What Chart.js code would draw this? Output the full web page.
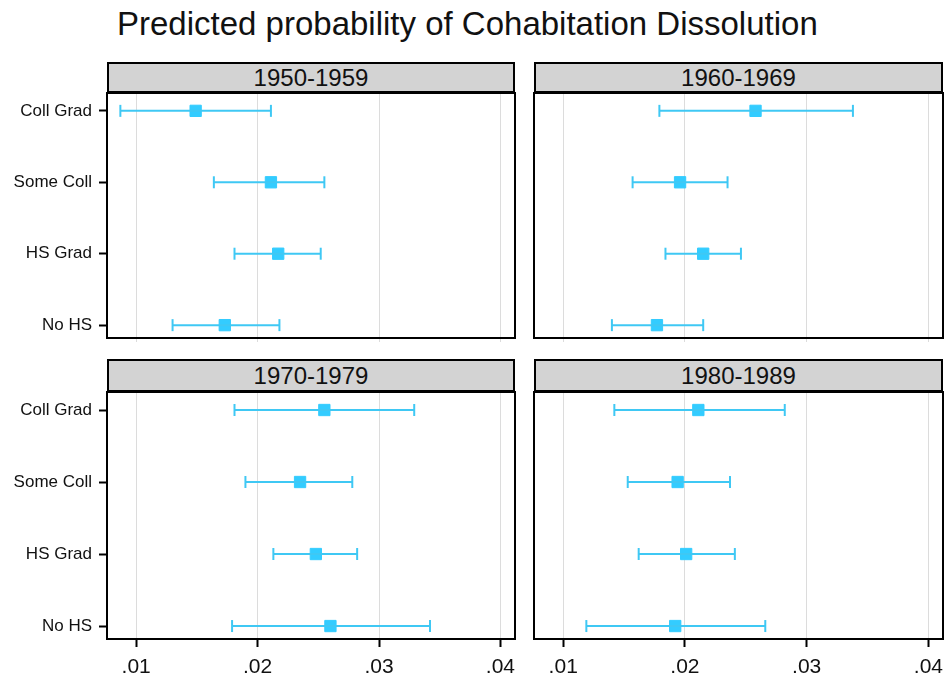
<!DOCTYPE html>
<html lang="en">
<head>
  <meta charset="UTF-8">
  <title>Predicted probability of Cohabitation Dissolution</title>
  <script src="https://cdn.jsdelivr.net/npm/chart.js"></script>
  <style>
    body {
      margin: 0;
      background: #fff;
      font-family: "Liberation Sans", Arial, sans-serif;
    }
    .page {
      position: relative;
      width: 948px;
      height: 682px;
      overflow: hidden;
    }
    .title {
      position: absolute;
      left: 117px;
      top: 7px;
      font-size: 33px;
      line-height: 1;
      color: #111;
      white-space: nowrap;
    }
    .strip {
      position: absolute;
      box-sizing: border-box;
      background: #d3d3d3;
      border: 2px solid #000;
      border-bottom-width: 3px;
      text-align: center;
      font-size: 24px;
      color: #111;
    }
    canvas {
      position: absolute;
    }
  </style>
</head>
<body>
  <div class="page">
    <div class="title">Predicted probability of Cohabitation Dissolution</div>

    <div class="strip" style="left:107px; top:62px; width:408px; height:32px; line-height:27px;">1950-1959</div>
    <div class="strip" style="left:534px; top:62px; width:409px; height:32px; line-height:27px;">1960-1969</div>
    <div class="strip" style="left:107px; top:359px; width:408px; height:34px; line-height:29px;">1970-1979</div>
    <div class="strip" style="left:534px; top:359px; width:409px; height:34px; line-height:29px;">1980-1989</div>

    <canvas id="p1" width="525" height="260" style="left:0; top:88px;"></canvas>
    <canvas id="p2" width="428" height="260" style="left:520px; top:88px;"></canvas>
    <canvas id="p3" width="525" height="295" style="left:0; top:387px;"></canvas>
    <canvas id="p4" width="428" height="295" style="left:520px; top:387px;"></canvas>
  </div>

  <script>
    const levels = ['Coll Grad', 'Some Coll', 'HS Grad', 'No HS'];
    const xTicks = [0.01, 0.02, 0.03, 0.04];
    const xTickLabels = ['.01', '.02', '.03', '.04'];

    // point estimates and 95% CI, order follows levels
    const est50s = [0.0149, 0.0211, 0.0217, 0.0173];
    const lo50s  = [0.0087, 0.0164, 0.0181, 0.0130];
    const hi50s  = [0.0211, 0.0255, 0.0252, 0.0218];

    const est60s = [0.0258, 0.0196, 0.0215, 0.0177];
    const lo60s  = [0.0179, 0.0157, 0.0184, 0.0140];
    const hi60s  = [0.0338, 0.0235, 0.0246, 0.0215];

    const est70s = [0.0255, 0.0235, 0.0248, 0.0260];
    const lo70s  = [0.0181, 0.0190, 0.0213, 0.0179];
    const hi70s  = [0.0329, 0.0278, 0.0282, 0.0342];

    const est80s = [0.0211, 0.0194, 0.0201, 0.0192];
    const lo80s  = [0.0142, 0.0153, 0.0162, 0.0119];
    const hi80s  = [0.0282, 0.0237, 0.0241, 0.0266];

    const barColor = '#3fc8f4';
    const markColor = '#33ccff';
    const font = '"Liberation Sans", Arial, sans-serif';

    const framePlugin = {
      id: 'frame',
      afterDraw(chart) {
        const a = chart.chartArea;
        const ctx = chart.ctx;
        ctx.save();
        ctx.strokeStyle = '#000';
        ctx.lineWidth = 2;
        ctx.strokeRect(a.left, a.top, a.right - a.left, a.bottom - a.top);
        ctx.restore();
      }
    };

    // fixed axis size, and no extra room for overhanging labels
    function fixSize(s, key, size) {
      s[key] = size;
      s.paddingTop = 0;
      s.paddingBottom = 0;
      s.paddingLeft = 0;
      s.paddingRight = 0;
    }

    function makePanel(id, est, lo, hi, showY, showX, yWidth, xHeight, padRight) {
      const bars = levels.map((name, i) => ({
        data: [{ x: lo[i], y: i + 1 }, { x: hi[i], y: i + 1 }],
        showLine: true,
        borderColor: barColor,
        borderWidth: 2,
        pointStyle: 'line',
        pointRotation: 90,
        pointRadius: 6,
        pointBorderWidth: 2,
        pointBorderColor: barColor
      }));
      const points = {
        data: est.map((v, i) => ({ x: v, y: i + 1 })),
        pointStyle: 'rect',
        pointRadius: 8,
        borderWidth: 1,
        backgroundColor: markColor,
        borderColor: markColor
      };

      return new Chart(document.getElementById(id), {
        type: 'scatter',
        data: { datasets: [...bars, points] },
        options: {
          responsive: false,
          animation: false,
          layout: { autoPadding: false, padding: { top: 5, right: padRight, left: 0, bottom: 0 } },
          plugins: { legend: { display: false }, tooltip: { enabled: false } },
          scales: {
            x: {
              type: 'linear',
              min: 0.0076,
              max: 0.0412,
              afterBuildTicks: s => { s.ticks = xTicks.map(v => ({ value: v })); },
              afterFit: s => fixSize(s, 'height', xHeight),
              ticks: {
                display: showX,
                callback: (v, i) => xTickLabels[i],
                font: { family: font, size: 21 },
                color: '#111',
                padding: 8,
                maxRotation: 0
              },
              grid: {
                color: '#dcdcdc',
                lineWidth: 1,
                drawTicks: true,
                tickLength: showX ? 8 : 4,
                tickColor: showX ? '#000' : '#dcdcdc',
                tickWidth: showX ? 2 : 1
              },
              border: { display: false }
            },
            y: {
              type: 'linear',
              reverse: true,
              min: 0.75,
              max: 4.18,
              afterBuildTicks: s => { s.ticks = [1, 2, 3, 4].map(v => ({ value: v })); },
              afterFit: s => fixSize(s, 'width', yWidth),
              ticks: {
                display: showY,
                callback: v => levels[v - 1],
                font: { family: font, size: 17 },
                color: '#111',
                padding: 7
              },
              grid: {
                drawOnChartArea: false,
                drawTicks: showY,
                tickLength: 8,
                tickColor: '#000',
                tickWidth: 2
              },
              border: { display: false }
            }
          }
        },
        plugins: [framePlugin]
      });
    }

    makePanel('p1', est50s, lo50s, hi50s, true, false, 107, 10, 10);
    makePanel('p2', est60s, lo60s, hi60s, false, false, 14, 10, 5);
    makePanel('p3', est70s, lo70s, hi70s, true, true, 107, 43, 10);
    makePanel('p4', est80s, lo80s, hi80s, false, true, 14, 43, 5);
  </script>
</body>
</html>
